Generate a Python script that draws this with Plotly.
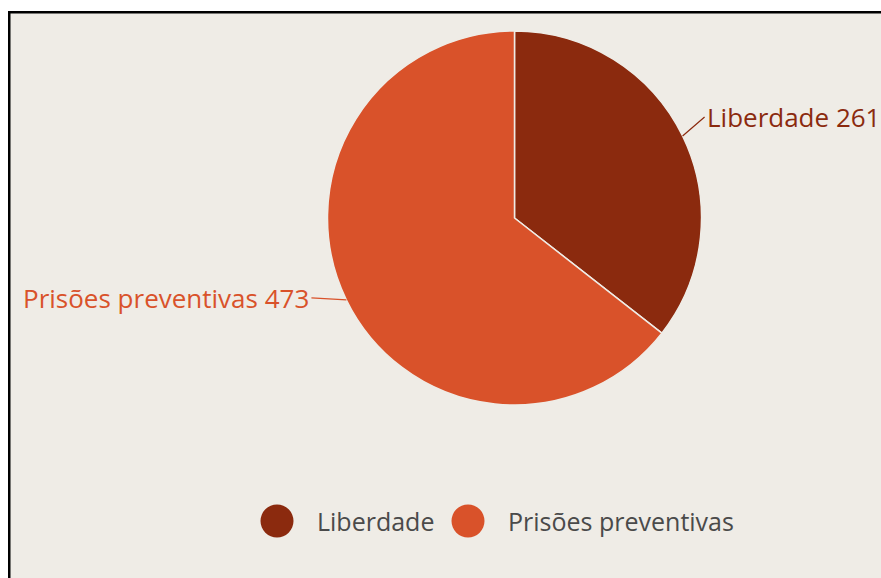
import math
import plotly.graph_objects as go

# ---- data ----
categories = ["Liberdade", "Prisões preventivas"]
values = [261, 473]
colors = ["#8B2A0E", "#D9522A"]

# ---- style / layout constants ----
W, H = 881, 578
BG = "#EFECE6"
FONT = "Open Sans"
CX, CY, R = 514.5, 218, 187        # pie centre / radius in pixels
LEG_Y = 521                        # legend row centre (px from top)
LEG_CIRCLE_X = [277, 468]          # legend symbol centres
LEG_TEXT_X = [315, 506]            # legend text left edges
LEG_R = 16.5

def px(x):
    return x / W

def py(y):
    return 1 - y / H

fig = go.Figure()

fig.add_trace(go.Pie(
    labels=categories,
    values=values,
    marker=dict(colors=colors, line=dict(color=BG, width=1.5)),
    sort=False,
    direction="clockwise",
    rotation=0,
    textinfo="none",
    hoverinfo="label+value",
    showlegend=False,
    domain=dict(x=[px(CX - R), px(CX + R)], y=[py(CY + R), py(CY - R)]),
))

shapes = [
    # chart frame with black border on left and top
    dict(type="rect", xref="paper", yref="paper",
         x0=px(9.25), x1=px(W + 6), y0=py(12.25), y1=py(H + 6),
         fillcolor=BG, line=dict(color="#000000", width=2.5), layer="below"),
]
annotations = []

# data labels with connectors
total = sum(values)
cum = 0.0
for name, val, col in zip(categories, values, colors):
    frac = val / total
    theta = 2 * math.pi * (cum + frac / 2)
    cum += frac
    ex = CX + R * math.sin(theta)
    ey = CY - R * math.cos(theta)
    right = ex > CX
    annotations.append(dict(
        x=px(ex), y=py(ey), xref="paper", yref="paper",
        text=f"{name} {val}",
        showarrow=True, arrowhead=0, arrowwidth=1.2, arrowcolor=col,
        ax=22 if right else -35, ay=-19 if right else -2,
        xanchor="left" if right else "right", yanchor="middle",
        font=dict(family=FONT, size=26, color=col),
    ))

# legend (circle symbols + text)
for name, col, cxl, tx in zip(categories, colors, LEG_CIRCLE_X, LEG_TEXT_X):
    shapes.append(dict(type="circle", xref="paper", yref="paper",
                       x0=px(cxl - LEG_R), x1=px(cxl + LEG_R),
                       y0=py(LEG_Y + LEG_R), y1=py(LEG_Y - LEG_R),
                       fillcolor=col, line=dict(width=0)))
    annotations.append(dict(x=px(tx), y=py(LEG_Y), xref="paper", yref="paper",
                            text=name, showarrow=False,
                            xanchor="left", yanchor="middle",
                            font=dict(family=FONT, size=25, color="#4A4A4A")))

fig.update_layout(
    width=W, height=H,
    margin=dict(l=0, r=0, t=0, b=0),
    paper_bgcolor="#FFFFFF",
    plot_bgcolor=BG,
    showlegend=False,
    shapes=shapes,
    annotations=annotations,
    font=dict(family=FONT),
)

fig.write_html("out.html")
